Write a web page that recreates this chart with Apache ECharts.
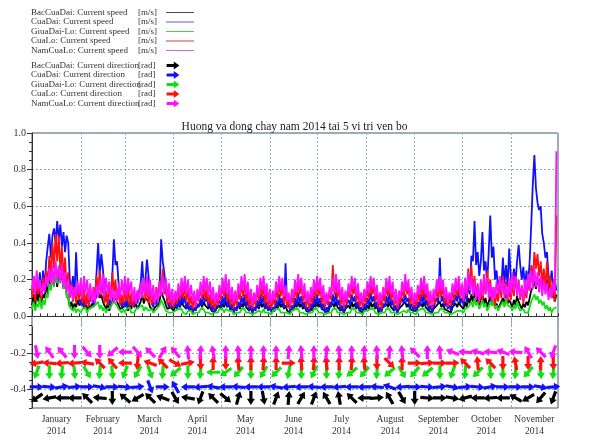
<!DOCTYPE html>
<html>
<head>
<meta charset="utf-8">
<script src="https://cdn.jsdelivr.net/npm/echarts@6/dist/echarts.min.js"></script>
<style>
html,body{margin:0;padding:0;background:#fff}
#chart{width:589px;height:439px}
</style>
</head>
<body>
<div id="chart"></div>
<script>
// Calendar of the record (Jan 1 .. Nov 30, 2014), one value per day
const monthNames = ['January','February','March','April','May','June','July','August','September','October','November'];
const monthLengths = [31,28,31,30,31,30,31,31,30,31,30];
const yearLabel = '2014';
const yTickValues = [-0.4,-0.2,0.0,0.2,0.4,0.6,0.8,1.0];

const stations = ['BacCuaDai','CuaDai','GiuaDai-Lo','CuaLo','NamCuaLo'];

// Daily current speed [m/s]
const bacCuaDaiSpeed = [
 .06,.12,.05,.14,.08,.16,.07,.12,.10,.18,.12,.20,.15,.22,.18,.25,.16,.24,.20,.22,.15,.18,.12,.10,.05,.08,.04,.07,.05,.09,.06,
 .05,.08,.04,.07,.03,.06,.04,.07,.05,.09,.08,.14,.10,.12,.08,.06,.04,.07,.03,.06,.08,.12,.10,.09,.06,.04,.03,.05,
 .04,.07,.03,.06,.04,.08,.05,.07,.04,.06,.08,.12,.07,.10,.11,.08,.05,.04,.03,.05,.04,.06,.08,.14,.11,.09,.06,.04,.03,.05,.04,
 .03,.06,.04,.07,.05,.08,.06,.07,.04,.06,.03,.05,.02,.04,.03,.05,.04,.07,.05,.08,.06,.07,.04,.06,.03,.04,.02,.04,.03,.06,
 .04,.07,.05,.08,.05,.07,.03,.05,.02,.04,.03,.06,.04,.07,.05,.08,.05,.06,.03,.05,.02,.04,.03,.06,.04,.08,.05,.07,.04,.06,.03,
 .05,.03,.04,.03,.06,.04,.08,.05,.07,.04,.06,.03,.04,.02,.05,.03,.07,.05,.08,.05,.07,.04,.06,.03,.04,.02,.05,.03,.07,.05,
 .08,.05,.07,.04,.05,.03,.04,.02,.05,.04,.07,.05,.08,.05,.06,.03,.05,.02,.04,.03,.06,.04,.08,.05,.07,.04,.06,.03,.04,.02,.05,
 .03,.06,.04,.08,.05,.07,.04,.06,.02,.04,.03,.05,.04,.07,.05,.08,.05,.06,.03,.05,.02,.04,.03,.06,.05,.08,.05,.07,.04,.05,.03,
 .04,.03,.05,.04,.07,.05,.08,.05,.06,.03,.04,.02,.04,.03,.06,.05,.08,.05,.07,.04,.05,.03,.04,.02,.05,.04,.07,.05,.08,.06,
 .06,.04,.08,.05,.10,.07,.12,.08,.14,.07,.11,.06,.09,.12,.07,.10,.05,.08,.11,.06,.09,.05,.07,.04,.06,.05,.10,.06,.12,.07,.09,
 .07,.05,.09,.06,.11,.08,.06,.04,.07,.05,.08,.06,.10,.14,.16,.19,.15,.20,.17,.21,.16,.22,.18,.20,.14,.17,.10,.13,.08,.12
];
const cuaDaiSpeed = [
 .12,.22,.10,.20,.14,.24,.11,.25,.15,.30,.38,.45,.32,.44,.48,.40,.52,.42,.50,.38,.46,.35,.44,.40,.20,.14,.22,.12,.35,.15,.10,
 .06,.12,.05,.10,.07,.14,.08,.12,.06,.10,.24,.40,.22,.34,.26,.15,.08,.12,.06,.10,.22,.42,.28,.30,.18,.10,.05,.09,
 .05,.11,.04,.09,.06,.12,.05,.10,.07,.14,.18,.30,.15,.20,.31,.22,.12,.08,.05,.10,.06,.12,.15,.42,.30,.24,.14,.08,.05,.09,.04,
 .03,.08,.04,.10,.05,.12,.07,.11,.04,.08,.03,.06,.02,.05,.03,.07,.05,.10,.06,.12,.08,.11,.05,.09,.03,.06,.02,.05,.04,.09,
 .05,.11,.06,.13,.05,.10,.03,.07,.02,.05,.03,.08,.05,.11,.07,.12,.05,.09,.03,.06,.02,.05,.03,.09,.05,.12,.07,.11,.04,.08,.03,
 .06,.02,.05,.03,.09,.05,.12,.07,.10,.04,.29,.05,.07,.02,.06,.04,.10,.06,.13,.07,.11,.05,.08,.03,.05,.02,.07,.04,.11,.06,
 .12,.07,.10,.04,.07,.02,.05,.03,.08,.05,.12,.07,.13,.06,.09,.03,.06,.02,.05,.04,.09,.06,.12,.08,.11,.05,.08,.03,.05,.02,.07,
 .04,.10,.06,.13,.08,.11,.05,.08,.03,.05,.02,.07,.05,.11,.07,.13,.06,.09,.03,.06,.02,.05,.04,.10,.07,.12,.08,.10,.04,.07,.03,
 .06,.03,.08,.05,.12,.07,.13,.06,.09,.03,.06,.02,.05,.04,.10,.07,.32,.08,.11,.05,.09,.04,.06,.03,.09,.06,.12,.08,.14,.07,
 .10,.06,.14,.08,.18,.12,.33,.30,.52,.28,.35,.22,.30,.46,.25,.30,.18,.35,.55,.32,.38,.20,.25,.15,.20,.14,.32,.18,.28,.16,.37,
 .22,.15,.26,.18,.30,.39,.28,.20,.27,.16,.25,.18,.30,.50,.72,.88,.70,.62,.58,.60,.45,.40,.32,.35,.22,.18,.25,.15,.20,.14
];
const giuaDaiLoSpeed = [
 .04,.08,.03,.07,.05,.10,.04,.09,.06,.12,.10,.18,.14,.22,.16,.25,.18,.28,.20,.26,.15,.20,.10,.12,.05,.06,.03,.05,.02,.04,.03,
 .02,.04,.03,.05,.02,.04,.03,.05,.04,.06,.05,.08,.04,.06,.03,.05,.02,.04,.03,.05,.06,.09,.07,.06,.04,.03,.02,.04,
 .02,.04,.03,.05,.02,.03,.02,.04,.03,.05,.04,.06,.03,.05,.04,.03,.02,.04,.02,.03,.04,.05,.06,.09,.07,.05,.03,.04,.02,.03,.02,
 .02,.03,.02,.04,.03,.04,.02,.03,.01,.03,.02,.03,.01,.02,.02,.03,.02,.04,.03,.04,.02,.03,.02,.03,.01,.02,.02,.03,.02,.04,
 .03,.04,.02,.04,.03,.03,.02,.03,.01,.02,.02,.03,.02,.04,.03,.04,.02,.03,.02,.03,.01,.02,.02,.03,.03,.04,.02,.04,.02,.03,.02,
 .02,.01,.03,.02,.04,.03,.04,.02,.03,.02,.03,.02,.02,.01,.03,.02,.04,.03,.04,.02,.03,.02,.02,.01,.02,.02,.03,.02,.04,.03,
 .04,.02,.03,.02,.02,.01,.02,.02,.03,.02,.04,.03,.04,.02,.03,.02,.02,.01,.02,.02,.03,.02,.04,.03,.04,.02,.03,.02,.02,.01,.03,
 .02,.03,.02,.04,.03,.04,.02,.03,.01,.02,.02,.03,.02,.04,.03,.04,.02,.03,.02,.02,.01,.02,.02,.03,.03,.04,.02,.04,.02,.03,.02,
 .02,.01,.03,.02,.04,.03,.04,.02,.03,.02,.02,.01,.02,.02,.03,.02,.04,.03,.04,.02,.03,.02,.02,.01,.02,.02,.03,.03,.04,.03,
 .03,.02,.04,.03,.05,.04,.08,.05,.10,.06,.08,.04,.06,.09,.05,.07,.03,.05,.08,.06,.09,.04,.06,.03,.05,.04,.08,.05,.10,.06,.07,
 .05,.03,.06,.04,.08,.05,.03,.02,.04,.02,.03,.02,.05,.08,.10,.12,.09,.11,.07,.09,.06,.08,.04,.06,.03,.05,.02,.04,.03,.05
];
const cuaLoSpeed = [
 .10,.20,.08,.22,.12,.18,.09,.21,.14,.25,.18,.33,.22,.40,.26,.45,.30,.44,.25,.38,.20,.32,.15,.24,.10,.18,.08,.16,.07,.15,.09,
 .17,.07,.15,.06,.13,.05,.12,.08,.16,.10,.22,.14,.25,.12,.18,.07,.14,.06,.16,.10,.24,.13,.20,.08,.14,.06,.12,.07,
 .15,.08,.17,.06,.13,.05,.11,.07,.14,.09,.18,.11,.20,.09,.17,.07,.14,.06,.12,.08,.16,.10,.19,.14,.26,.12,.18,.07,.14,.05,.11,
 .05,.12,.07,.15,.09,.18,.10,.17,.08,.14,.06,.11,.04,.10,.05,.13,.08,.16,.10,.18,.09,.15,.07,.12,.05,.10,.04,.11,.06,.14,
 .09,.17,.11,.19,.08,.15,.06,.12,.04,.10,.06,.14,.09,.18,.11,.19,.08,.14,.05,.11,.04,.10,.06,.15,.09,.18,.10,.17,.07,.13,.05,
 .11,.04,.10,.06,.15,.09,.18,.11,.17,.07,.13,.05,.10,.04,.12,.07,.16,.10,.19,.12,.17,.08,.14,.05,.11,.04,.12,.07,.16,.10,
 .18,.11,.17,.07,.13,.05,.10,.06,.14,.09,.28,.12,.19,.10,.16,.06,.12,.04,.11,.07,.15,.10,.18,.12,.17,.08,.14,.05,.10,.05,.12,
 .07,.15,.10,.18,.12,.17,.08,.13,.05,.10,.04,.12,.08,.17,.11,.19,.09,.15,.06,.11,.04,.10,.07,.16,.10,.19,.12,.16,.07,.12,.05,
 .10,.05,.13,.08,.17,.11,.18,.09,.14,.06,.11,.04,.12,.07,.16,.10,.18,.11,.16,.07,.12,.05,.10,.06,.14,.09,.17,.11,.19,.10,
 .16,.08,.20,.11,.26,.14,.28,.12,.22,.09,.18,.07,.15,.09,.21,.12,.25,.13,.20,.08,.16,.06,.13,.08,.18,.10,.22,.12,.19,.08,.15,
 .09,.18,.11,.22,.13,.20,.09,.16,.07,.14,.10,.19,.14,.28,.20,.35,.26,.34,.22,.30,.18,.26,.14,.30,.16,.22,.10,.16,.08,.55
];
const namCuaLoSpeed = [
 .14,.22,.12,.25,.15,.20,.11,.18,.13,.22,.16,.26,.18,.28,.17,.30,.20,.27,.18,.29,.16,.24,.13,.20,.10,.17,.09,.16,.11,.19,.12,
 .21,.10,.22,.13,.20,.09,.18,.08,.15,.07,.17,.10,.20,.12,.23,.11,.21,.13,.19,.09,.16,.07,.14,.08,.18,.10,.20,.12,
 .22,.11,.21,.13,.19,.08,.16,.07,.14,.09,.18,.10,.21,.12,.22,.11,.20,.09,.17,.07,.15,.08,.19,.11,.22,.13,.21,.10,.18,.08,.15,
 .07,.14,.09,.18,.11,.21,.13,.22,.12,.20,.10,.17,.08,.14,.06,.15,.09,.19,.12,.22,.14,.21,.11,.19,.09,.16,.07,.13,.08,.17,
 .11,.21,.13,.23,.12,.20,.09,.16,.07,.14,.08,.18,.12,.22,.14,.23,.12,.19,.09,.15,.06,.13,.08,.17,.11,.21,.14,.22,.12,.18,.08,
 .15,.07,.14,.09,.19,.13,.22,.14,.21,.11,.17,.08,.13,.06,.15,.10,.20,.13,.23,.15,.21,.11,.18,.08,.14,.07,.16,.10,.20,.13,
 .22,.14,.21,.10,.17,.07,.13,.08,.16,.11,.21,.14,.23,.13,.20,.09,.16,.06,.14,.09,.18,.12,.22,.15,.21,.11,.18,.08,.13,.07,.15,
 .10,.19,.13,.22,.15,.21,.11,.17,.07,.13,.08,.16,.11,.21,.14,.22,.12,.19,.08,.15,.06,.14,.10,.19,.13,.23,.14,.20,.10,.16,.07,
 .13,.08,.17,.12,.21,.14,.22,.12,.18,.08,.14,.06,.15,.10,.20,.13,.22,.14,.20,.10,.16,.07,.13,.09,.18,.12,.21,.14,.22,.11,
 .18,.09,.21,.12,.24,.14,.22,.11,.19,.09,.17,.08,.20,.11,.23,.13,.21,.10,.18,.08,.16,.10,.19,.12,.22,.13,.20,.10,.17,.09,.21,
 .12,.24,.14,.22,.11,.19,.10,.17,.09,.20,.12,.23,.14,.25,.15,.27,.16,.24,.13,.22,.11,.20,.12,.18,.09,.16,.10,.19,.13,.90
];

// Current direction, sampled every 8 days from Jan 4 [degrees, counter-clockwise from east]
const arrowFirstDay = 3;
const arrowStepDays = 8;
const bacCuaDaiDir = [
 215,190,180,180,135,175,270,140,210,135,160,300,170,250,135,320,75,270,280,70,85,
 60,70,120,100,135,180,5,120,300,270,355,0,350,195,180,185,180,150,210,230,250
];
const cuaDaiDir = [
 0,355,10,5,0,350,0,355,5,290,0,120,180,185,170,180,175,180,180,170,185,
 180,175,180,185,180,180,175,160,185,0,355,5,350,5,355,10,0,0,0,350,5
];
const giuaDaiLoDir = [
 250,270,265,275,300,265,275,250,240,290,265,220,270,265,180,215,230,270,240,225,260,
 270,245,270,265,220,230,265,220,300,230,220,270,250,265,225,275,270,265,230,275,265
];
const cuaLoDir = [
 190,175,185,185,170,135,130,180,265,160,135,330,10,270,90,270,95,90,85,90,0,
 95,85,95,90,85,95,270,315,90,0,5,0,0,135,95,135,270,100,270,90,270
];
const namCuaLoDir = [
 280,125,130,270,310,270,220,180,310,135,60,130,95,85,100,90,95,90,90,90,85,
 95,90,85,95,90,90,95,85,95,135,90,95,160,175,165,175,160,175,120,135,250
];

// ---- drawing ----
const speedSets = [bacCuaDaiSpeed, cuaDaiSpeed, giuaDaiLoSpeed, cuaLoSpeed, namCuaLoSpeed];
const dirSets = [bacCuaDaiDir, cuaDaiDir, giuaDaiLoDir, cuaLoDir, namCuaLoDir];
const colors = ['#000000', '#1010ff', '#10e010', '#ff1010', '#ff10ff'];
const legendLineColors = ['#3a3a55', '#5050d0', '#40d040', '#c83030', '#d060d0'];
const arrowLevels = [-0.445, -0.385, -0.305, -0.255, -0.195];

const monthStarts = [0];
monthLengths.forEach((n, i) => monthStarts.push(monthStarts[i] + n));
const totalDays = monthStarts[monthStarts.length - 1];
const monthMids = monthLengths.map((n, i) => monthStarts[i] + n / 2);

const serif = 'Liberation Serif';
const gridBlue = '#7fb2d6';
const arrowPath = 'path://M0,3L9,3L9,0L16,5L9,10L9,7L0,7Z';
const linePath = 'path://M0,0H30V1H0Z';

const speedNames = stations.map(s => s + ': Current speed');
const dirNames = stations.map(s => s + ': Current direction');

const series = [];
speedSets.forEach((vals, s) => {
  series.push({
    name: speedNames[s],
    type: 'line',
    symbol: 'none',
    sampling: null,
    data: vals.map((v, i) => [i, v]),
    lineStyle: { color: colors[s], width: 1.8 },
    itemStyle: { color: legendLineColors[s] },
    z: 2 + s
  });
});
dirSets.forEach((dirs, s) => {
  series.push({
    name: dirNames[s],
    type: 'scatter',
    symbol: arrowPath,
    symbolSize: [14, 8],
    symbolRotate: function (v) { return v[2]; },
    data: dirs.map((a, k) => [arrowFirstDay + k * arrowStepDays, arrowLevels[s], a]),
    itemStyle: { color: colors[s], opacity: 1 },
    z: 10 + s
  });
});

const legendTextStyle = {
  fontFamily: serif, fontSize: 9, color: '#333',
  rich: {
    n: { width: 107, align: 'left', fontFamily: serif, fontSize: 9, color: '#333', lineHeight: 10 },
    u: { width: 23, align: 'left', fontFamily: serif, fontSize: 9, color: '#333', lineHeight: 10 }
  }
};

const chart = echarts.init(document.getElementById('chart'), null, { renderer: 'canvas' });
chart.setOption({
  animation: false,
  backgroundColor: '#fff',
  title: {
    text: 'Huong va dong chay nam 2014 tai 5 vi tri ven bo',
    left: 'center', top: 121, padding: 0,
    textStyle: { fontFamily: serif, fontSize: 11.5, fontWeight: 'normal', color: '#222' }
  },
  legend: [
    {
      orient: 'vertical', left: 31, top: 8, align: 'right', padding: 0,
      itemWidth: 28, itemHeight: 8, itemGap: 0.5, selectedMode: false,
      itemStyle: { borderWidth: 0 },
      data: speedNames.map(n => ({ name: n, icon: linePath })),
      formatter: n => '{n|' + n + '}{u|[m/s]}',
      textStyle: legendTextStyle
    },
    {
      orient: 'vertical', left: 31, top: 61, align: 'right', padding: 0,
      itemWidth: 14, itemHeight: 8, itemGap: 0.5, selectedMode: false,
      itemStyle: { borderWidth: 0 },
      data: dirNames.map(n => ({ name: n, icon: arrowPath })),
      formatter: n => '{n|' + n + '}{u|[rad]}',
      textStyle: legendTextStyle
    }
  ],
  grid: {
    left: 32, right: 31, top: 133, bottom: 31,
    show: true, borderColor: '#555', borderWidth: 1, backgroundColor: 'transparent'
  },
  xAxis: [
    {
      type: 'value', min: 0, max: totalDays, position: 'bottom',
      axisLine: { show: true, lineStyle: { color: '#333', width: 1 } },
      axisTick: { show: true, customValues: monthStarts, length: 10, lineStyle: { color: '#9aa' } },
      axisLabel: {
        customValues: monthMids,
        formatter: v => {
          const i = monthMids.indexOf(v);
          return i < 0 ? '' : monthNames[i] + '\n' + yearLabel;
        },
        fontFamily: serif, fontSize: 9.5, color: '#333', lineHeight: 12.5, margin: 5
      },
      splitLine: { show: true, lineStyle: { color: gridBlue, type: [2, 2], width: 1 } }
    },
    {
      type: 'value', min: 0, max: totalDays, interval: 5, position: 'bottom',
      axisLine: { show: false },
      axisTick: { show: true, inside: true, length: 3, lineStyle: { color: '#333' } },
      axisLabel: { show: false },
      splitLine: { show: false }
    }
  ],
  yAxis: [
    {
      type: 'value', min: -0.5, max: 1.0,
      axisLine: { show: true, lineStyle: { color: '#333', width: 1 } },
      axisTick: { show: true, customValues: yTickValues, length: 5, lineStyle: { color: '#333' } },
      axisLabel: {
        customValues: yTickValues,
        formatter: v => v.toFixed(1),
        fontFamily: serif, fontSize: 10, color: '#333', margin: 6
      },
      splitLine: { show: true, lineStyle: { color: gridBlue, type: [2, 2], width: 1 } }
    },
    {
      type: 'value', min: -0.5, max: 1.0, interval: 0.05, position: 'left',
      axisLine: { show: false },
      axisTick: { show: true, length: 3, lineStyle: { color: '#333' } },
      axisLabel: { show: false },
      splitLine: { show: false }
    }
  ],
  series: series
});
</script>
</body>
</html>
